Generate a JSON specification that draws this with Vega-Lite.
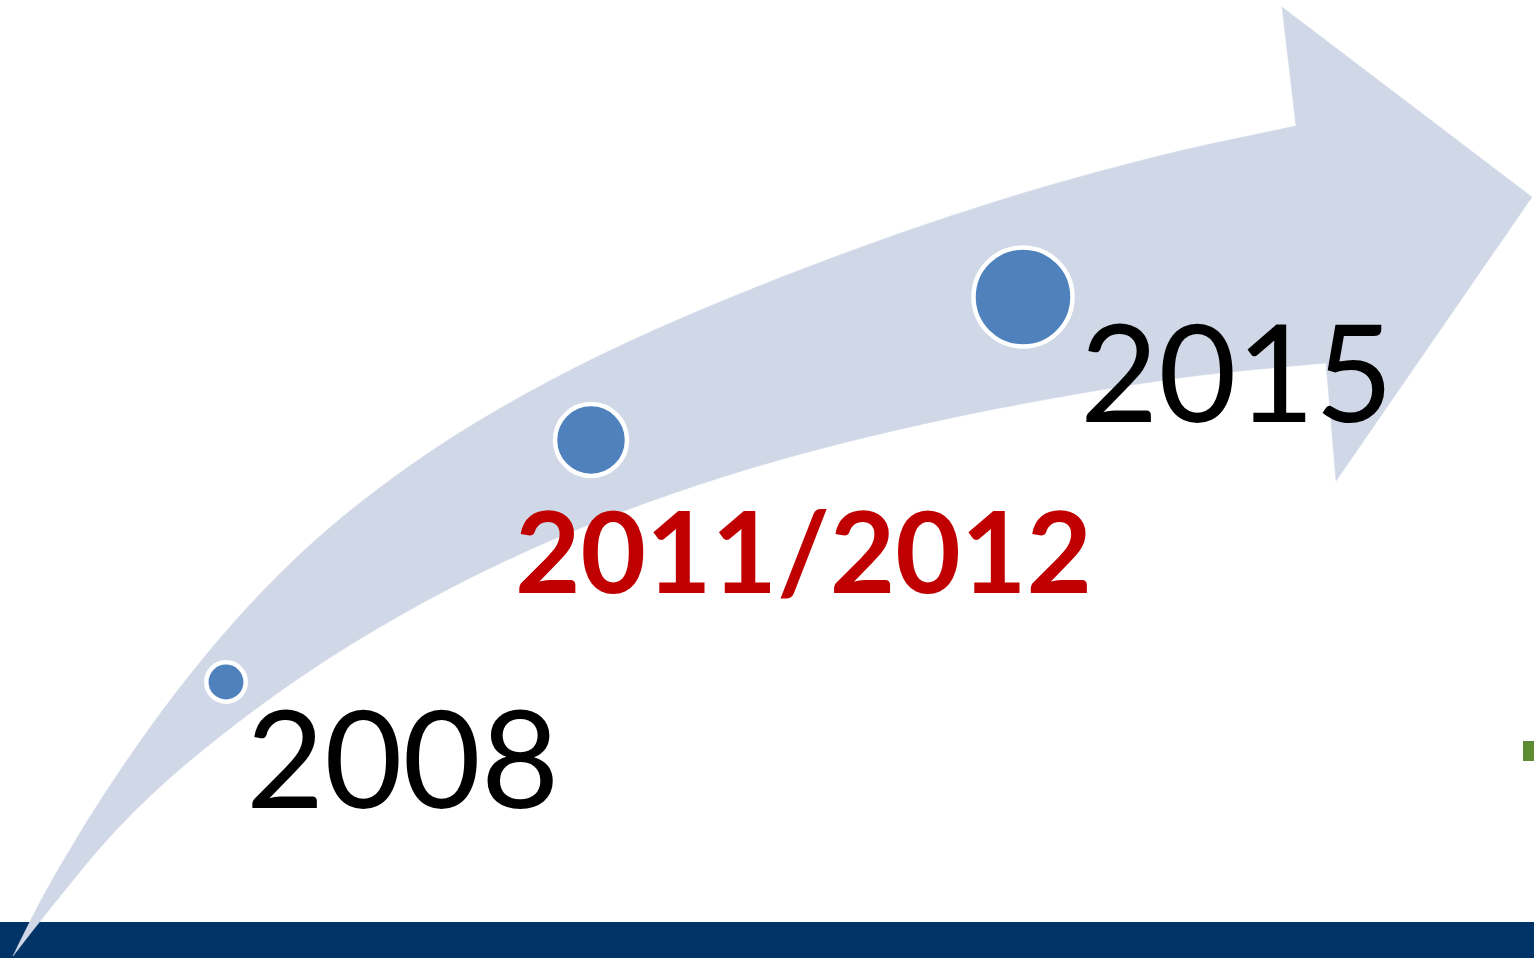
{
  "$schema": "https://vega.github.io/schema/vega-lite/v6.json",
  "autosize": {"type": "fit", "contains": "padding"},
  "width": 1534,
  "height": 958,
  "padding": 0,
  "background": "#ffffff",
  "config": {"view": {"stroke": null}},
  "datasets": {
    "arrowBody": [
      {"i": 0, "x": 13, "y": 956}, {"i": 0.1, "x": 13, "y": 956}, {"i": 0.2, "x": 13, "y": 956},
      {"i": 1, "x": 30, "y": 921}, {"i": 2, "x": 50, "y": 883}, {"i": 3, "x": 75, "y": 841},
      {"i": 4, "x": 100, "y": 800}, {"i": 5, "x": 150, "y": 726}, {"i": 6, "x": 200, "y": 661},
      {"i": 7, "x": 250, "y": 603.4}, {"i": 8, "x": 300, "y": 553}, {"i": 9, "x": 350, "y": 510},
      {"i": 10, "x": 400, "y": 472}, {"i": 11, "x": 450, "y": 438}, {"i": 12, "x": 500, "y": 408},
      {"i": 13, "x": 550, "y": 380.3}, {"i": 14, "x": 600, "y": 355}, {"i": 15, "x": 650, "y": 331.7},
      {"i": 16, "x": 700, "y": 310}, {"i": 17, "x": 750, "y": 289.5}, {"i": 18, "x": 800, "y": 270},
      {"i": 19, "x": 850, "y": 251}, {"i": 20, "x": 900, "y": 233}, {"i": 21, "x": 950, "y": 216},
      {"i": 22, "x": 1000, "y": 200}, {"i": 23, "x": 1050, "y": 185}, {"i": 24, "x": 1100, "y": 171},
      {"i": 25, "x": 1150, "y": 158}, {"i": 26, "x": 1200, "y": 146}, {"i": 27, "x": 1250, "y": 135.5},
      {"i": 33, "x": 1296, "y": 126}, {"i": 33.1, "x": 1296, "y": 126}, {"i": 33.2, "x": 1296, "y": 126},
      {"i": 34, "x": 1310, "y": 240},
      {"i": 35, "x": 1326, "y": 363}, {"i": 35.1, "x": 1326, "y": 363}, {"i": 35.2, "x": 1326, "y": 363},
      {"i": 37, "x": 1300, "y": 365.3}, {"i": 38, "x": 1250, "y": 370}, {"i": 39, "x": 1200, "y": 375},
      {"i": 40, "x": 1150, "y": 382}, {"i": 41, "x": 1100, "y": 390}, {"i": 42, "x": 1050, "y": 398.6},
      {"i": 43, "x": 1000, "y": 408}, {"i": 44, "x": 950, "y": 418}, {"i": 45, "x": 900, "y": 429},
      {"i": 46, "x": 850, "y": 441}, {"i": 47, "x": 800, "y": 454}, {"i": 48, "x": 750, "y": 468.3},
      {"i": 49, "x": 700, "y": 484}, {"i": 50, "x": 650, "y": 501.2}, {"i": 51, "x": 600, "y": 520},
      {"i": 52, "x": 550, "y": 540.5}, {"i": 53, "x": 500, "y": 563}, {"i": 54, "x": 450, "y": 587.8},
      {"i": 55, "x": 400, "y": 615}, {"i": 56, "x": 350, "y": 644.6}, {"i": 57, "x": 300, "y": 677},
      {"i": 58, "x": 250, "y": 712.5}, {"i": 59, "x": 200, "y": 752}, {"i": 60, "x": 167, "y": 780},
      {"i": 61, "x": 133, "y": 812}, {"i": 62, "x": 100, "y": 847}, {"i": 63, "x": 70, "y": 884},
      {"i": 64, "x": 40, "y": 921},
      {"i": 65, "x": 13, "y": 956}, {"i": 65.1, "x": 13, "y": 956}, {"i": 65.2, "x": 13, "y": 956}
    ],
    "arrowHead": [
      {"i": 0, "x": 1296, "y": 126}, {"i": 1, "x": 1282, "y": 7}, {"i": 2, "x": 1532, "y": 197},
      {"i": 3, "x": 1336, "y": 481}, {"i": 4, "x": 1326, "y": 363}, {"i": 5, "x": 1300, "y": 250},
      {"i": 6, "x": 1296, "y": 126}
    ],
    "milestones": [
      {"year": "2008", "x": 226, "y": 682},
      {"year": "2011/2012", "x": 591, "y": 440},
      {"year": "2015", "x": 1023, "y": 297}
    ],
    "labels": [
      {"label": "2008", "x": 246, "y": 808, "highlight": false},
      {"label": "2011/2012", "x": 515, "y": 593, "highlight": true},
      {"label": "2015", "x": 1080, "y": 422, "highlight": false}
    ],
    "bands": [
      {"name": "footer", "x": 0, "x2": 1534, "y": 922, "y2": 958, "c": "bar"},
      {"name": "fragment", "x": 1523, "x2": 1534, "y": 741, "y2": 761, "c": "frag"}
    ]
  },
  "layer": [
    {
      "data": {"name": "bands"},
      "mark": {"type": "rect"},
      "encoding": {
        "x": {"field": "x", "type": "quantitative", "scale": {"domain": [0, 1534], "nice": false, "zero": false}, "axis": null},
        "x2": {"field": "x2"},
        "y": {"field": "y", "type": "quantitative", "scale": {"domain": [0, 958], "nice": false, "zero": false, "reverse": true}, "axis": null},
        "y2": {"field": "y2"},
        "color": {"field": "c", "type": "nominal", "scale": {"domain": ["bar", "frag"], "range": ["#003366", "#5e8a34"]}, "legend": null}
      }
    },
    {
      "data": {"name": "arrowBody"},
      "mark": {"type": "line", "fill": "#d0d8e7", "stroke": "#d0d8e7", "strokeWidth": 0.5, "interpolate": "basis"},
      "encoding": {
        "x": {"field": "x", "type": "quantitative"},
        "y": {"field": "y", "type": "quantitative"},
        "order": {"field": "i", "type": "quantitative"}
      }
    },
    {
      "data": {"name": "arrowHead"},
      "mark": {"type": "line", "fill": "#d0d8e7", "stroke": "#d0d8e7", "strokeWidth": 0.5, "interpolate": "linear"},
      "encoding": {
        "x": {"field": "x", "type": "quantitative"},
        "y": {"field": "y", "type": "quantitative"},
        "order": {"field": "i", "type": "quantitative"}
      }
    },
    {
      "data": {"name": "milestones"},
      "mark": {"type": "point", "shape": "circle", "filled": true, "fill": "#4f81bd", "stroke": "#ffffff", "strokeWidth": 4.5, "opacity": 1},
      "encoding": {
        "x": {"field": "x", "type": "quantitative"},
        "y": {"field": "y", "type": "quantitative"},
        "size": {"field": "year", "type": "nominal", "scale": {"type": "ordinal", "domain": ["2008", "2011/2012", "2015"], "range": [1552, 5184, 9801]}, "legend": null}
      }
    },
    {
      "data": {"name": "labels"},
      "transform": [{"filter": "!datum.highlight"}],
      "mark": {"type": "text", "font": "Lato", "fontSize": 135, "fontWeight": "normal", "color": "#000000", "align": "left", "baseline": "alphabetic"},
      "encoding": {
        "x": {"field": "x", "type": "quantitative"},
        "y": {"field": "y", "type": "quantitative"},
        "text": {"field": "label"}
      }
    },
    {
      "data": {"name": "labels"},
      "transform": [{"filter": "datum.highlight"}],
      "mark": {"type": "text", "font": "Lato", "fontSize": 113, "fontWeight": "bold", "color": "#c00000", "align": "left", "baseline": "alphabetic"},
      "encoding": {
        "x": {"field": "x", "type": "quantitative"},
        "y": {"field": "y", "type": "quantitative"},
        "text": {"field": "label"}
      }
    }
  ]
}
